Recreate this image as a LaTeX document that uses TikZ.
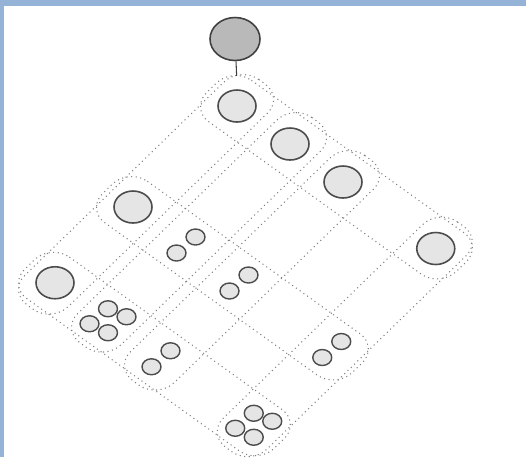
\documentclass[tikz,border=0pt]{standalone}
\usepackage{tikz}
\usetikzlibrary{shapes.geometric}
\definecolor{frameblue}{HTML}{95B3D7}

\begin{document}
\begin{tikzpicture}[
    bignode/.style={ellipse, draw=black!70, line width=0.9pt, fill=gray!20,
                    minimum width=0.76cm, minimum height=0.64cm, inner sep=0pt},
    smallnode/.style={ellipse, draw=black!70, line width=0.8pt, fill=gray!20,
                      minimum width=0.38cm, minimum height=0.32cm, inner sep=0pt},
    rootnode/.style={ellipse, draw=black!75, line width=0.9pt, fill=gray!55,
                     minimum width=1.0cm, minimum height=0.86cm, inner sep=0pt},
    band/.style={draw=black!50, dotted, line width=0.6pt, rounded corners=13pt},
    link/.style={draw=black!75, line width=0.6pt},
  ]
  \useasboundingbox (0,0) rectangle (10.52,-9.14);

  % frame (top and left edge only)
  \fill[frameblue] (0,0) rectangle (10.52,-0.12);
  \fill[frameblue] (0,0) rectangle (0.09,-9.14);

  % root above the lattice
  \node[rootnode] (root) at (4.70,-0.78) {};

  % skewed lattice: x runs along the rows, y along the columns
  \begin{scope}[shift={(4.74,-2.12)}, x={(1.06cm,-0.76cm)}, y={(-1.04cm,-1.01cm)}]

    % row bands
    \draw[band] (-0.48,-0.41) -- (4.23,-0.41) -- (4.23,0.41) -- (-0.48,0.41) -- cycle;
    \draw[band] (-0.48,1.59) -- (4.23,1.59) -- (4.23,2.41) -- (-0.48,2.41) -- cycle;
    \draw[band] (-0.48,3.09) -- (4.23,3.09) -- (4.23,3.91) -- (-0.48,3.91) -- cycle;

    % column bands
    \draw[band] (-0.41,-0.48) -- (0.41,-0.48) -- (0.41,3.98) -- (-0.41,3.98) -- cycle;
    \draw[band] (0.59,-0.48) -- (1.41,-0.48) -- (1.41,3.98) -- (0.59,3.98) -- cycle;
    \draw[band] (1.59,-0.48) -- (2.41,-0.48) -- (2.41,3.98) -- (1.59,3.98) -- cycle;
    \draw[band] (3.34,-0.48) -- (4.16,-0.48) -- (4.16,3.98) -- (3.34,3.98) -- cycle;

    \coordinate (envtop) at (-0.34,-0.34);

    % first row: single elements
    \node[bignode] (n00) at (0,0) {};
    \node[bignode] (n10) at (1,0) {};
    \node[bignode] (n20) at (2,0) {};
    \node[bignode] (n30) at (3.75,0) {};

    % second row: pairs
    \node[bignode] (n01) at (0,2) {};
    \node[smallnode, xshift=-0.19cm, yshift=-0.16cm] (n11a) at (1,2) {};
    \node[smallnode, xshift=0.19cm, yshift=0.16cm] (n11b) at (1,2) {};
    \node[smallnode, xshift=-0.19cm, yshift=-0.16cm] (n21a) at (2,2) {};
    \node[smallnode, xshift=0.19cm, yshift=0.16cm] (n21b) at (2,2) {};
    \node[smallnode, xshift=-0.19cm, yshift=-0.16cm] (n31a) at (3.75,2) {};
    \node[smallnode, xshift=0.19cm, yshift=0.16cm] (n31b) at (3.75,2) {};

    % third row: pairs and groups of four
    \node[bignode] (n02) at (0,3.5) {};
    \node[smallnode, yshift=0.24cm] (n12a) at (1,3.5) {};
    \node[smallnode, xshift=0.37cm, yshift=0.08cm] (n12b) at (1,3.5) {};
    \node[smallnode, xshift=-0.37cm, yshift=-0.06cm] (n12c) at (1,3.5) {};
    \node[smallnode, yshift=-0.24cm] (n12d) at (1,3.5) {};
    \node[smallnode, xshift=-0.19cm, yshift=-0.16cm] (n22a) at (2,3.5) {};
    \node[smallnode, xshift=0.19cm, yshift=0.16cm] (n22b) at (2,3.5) {};
    \node[smallnode, yshift=0.24cm] (n32a) at (3.75,3.5) {};
    \node[smallnode, xshift=0.37cm, yshift=0.08cm] (n32b) at (3.75,3.5) {};
    \node[smallnode, xshift=-0.37cm, yshift=-0.06cm] (n32c) at (3.75,3.5) {};
    \node[smallnode, yshift=-0.24cm] (n32d) at (3.75,3.5) {};
  \end{scope}

  \draw[link] (root) -- (envtop);

\end{tikzpicture}
\end{document}
